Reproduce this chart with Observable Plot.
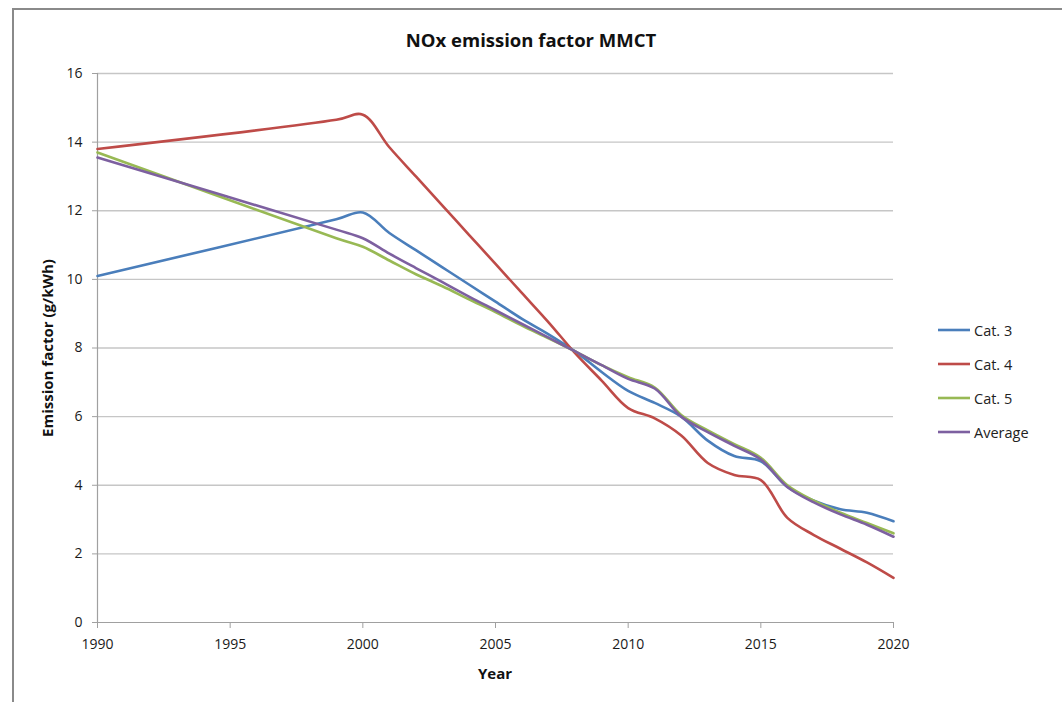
<!DOCTYPE html>
<html>
<head>
<meta charset="utf-8">
<script src="https://cdn.jsdelivr.net/npm/d3@7"></script>
<script src="https://cdn.jsdelivr.net/npm/@observablehq/plot@0.6"></script>
<style>
  html, body { margin: 0; padding: 0; background: #fff; }
  #wrap { position: relative; width: 1062px; height: 702px; overflow: hidden; font-family: "Open Sans", "Noto Sans", sans-serif; }
  #frame { position: absolute; left: 12px; top: 8px; width: 1062px; height: 720px; border-left: 2px solid #8a8a8a; border-top: 2px solid #8a8a8a; box-sizing: border-box; }
  .title { position: absolute; left: 0; width: 1062px; top: 27px; text-align: center; font-weight: bold; font-size: 18.5px; color: #111; }
  .xlabel { position: absolute; left: 395px; width: 200px; top: 663px; text-align: center; font-weight: bold; font-size: 15px; color: #111; }
  .ylabel { position: absolute; left: 47px; top: 348px; transform: translate(-50%, -50%) rotate(-90deg); white-space: nowrap; font-weight: bold; font-size: 15px; color: #111; }
  #legend { position: absolute; left: 938px; top: 313px; font-size: 14.5px; color: #222; }
  .li { display: flex; align-items: center; height: 34px; }
  .li svg { margin-right: 4px; }
  #chart { position: absolute; left: 0; top: 0; }
</style>
</head>
<body>
<div id="wrap">
  <div id="frame"></div>
  <div id="chart"></div>
  <div class="title">NOx emission factor MMCT</div>
  <div class="xlabel">Year</div>
  <div class="ylabel">Emission factor (g/kWh)</div>
  <div id="legend"></div>
</div>
<script>
const years = [1990, 1999, 2000, 2001, 2002, 2003, 2004, 2005, 2006, 2007, 2008, 2009, 2010, 2011, 2012, 2013, 2014, 2015, 2016, 2017, 2018, 2019, 2020];
const cat3 = [10.1, 11.75, 11.95, 11.35, 10.85, 10.35, 9.85, 9.35, 8.85, 8.4, 7.9, 7.3, 6.75, 6.4, 6.0, 5.3, 4.85, 4.7, 3.95, 3.55, 3.3, 3.2, 2.95];
const cat4 = [13.8, 14.65, 14.8, 13.85, 13.0, 12.15, 11.3, 10.45, 9.6, 8.75, 7.85, 7.05, 6.25, 5.95, 5.45, 4.65, 4.3, 4.15, 3.05, 2.55, 2.15, 1.75, 1.3];
const cat5 = [13.7, 11.2, 10.95, 10.55, 10.15, 9.8, 9.42, 9.05, 8.65, 8.28, 7.9, 7.5, 7.15, 6.85, 6.05, 5.6, 5.2, 4.8, 4.0, 3.55, 3.2, 2.9, 2.6];
const average = [13.55, 11.45, 11.2, 10.75, 10.33, 9.92, 9.5, 9.1, 8.7, 8.3, 7.9, 7.5, 7.1, 6.82, 6.0, 5.55, 5.15, 4.75, 3.95, 3.5, 3.15, 2.85, 2.5];
const seriesNames = ["Cat. 3", "Cat. 4", "Cat. 5", "Average"];
const seriesColors = ["#4a7ebb", "#be4b48", "#98b954", "#7d60a0"];
const xTicks = [1990, 1995, 2000, 2005, 2010, 2015, 2020];
const yTicks = [0, 2, 4, 6, 8, 10, 12, 14, 16];

const seriesValues = [cat3, cat4, cat5, average];
const rows = [];
seriesNames.forEach((name, i) => {
  years.forEach((yr, j) => rows.push({series: name, year: yr, value: seriesValues[i][j]}));
});

const font = "'Open Sans', 'Noto Sans', sans-serif";
const chart = Plot.plot({
  width: 1062,
  height: 702,
  marginLeft: 97,
  marginRight: 169,
  marginTop: 73,
  marginBottom: 80,
  style: {fontFamily: font, fontSize: "14px", color: "#1a1a1a", background: "transparent"},
  x: {domain: [1990, 2020]},
  y: {domain: [0, 16]},
  color: {domain: seriesNames, range: seriesColors},
  marks: [
    Plot.ruleY(yTicks.filter(d => d > 0), {stroke: "#c6c6c6", strokeWidth: 1.3}),
    Plot.ruleX([1990], {stroke: "#a0a0a0", strokeWidth: 1.2}),
    Plot.ruleY([0], {stroke: "#a0a0a0", strokeWidth: 1.2}),
    Plot.axisY({ticks: yTicks, tickSize: 5, tickPadding: 10, stroke: "#a0a0a0", label: null, fontSize: 14}),
    Plot.axisX({ticks: xTicks, tickSize: 6, tickPadding: 11, tickFormat: d => String(d), stroke: "#a0a0a0", label: null, fontSize: 14}),
    Plot.line(rows, {x: "year", y: "value", z: "series", stroke: "series", strokeWidth: 2.6, curve: "catmull-rom"})
  ]
});
document.getElementById("chart").appendChild(chart);

const legend = document.getElementById("legend");
seriesNames.forEach((name, i) => {
  const div = document.createElement("div");
  div.className = "li";
  div.innerHTML = `<svg width="32" height="6"><line x1="0" y1="3" x2="32" y2="3" stroke="${seriesColors[i]}" stroke-width="2.6"/></svg><span>${name}</span>`;
  legend.appendChild(div);
});
</script>
</body>
</html>
